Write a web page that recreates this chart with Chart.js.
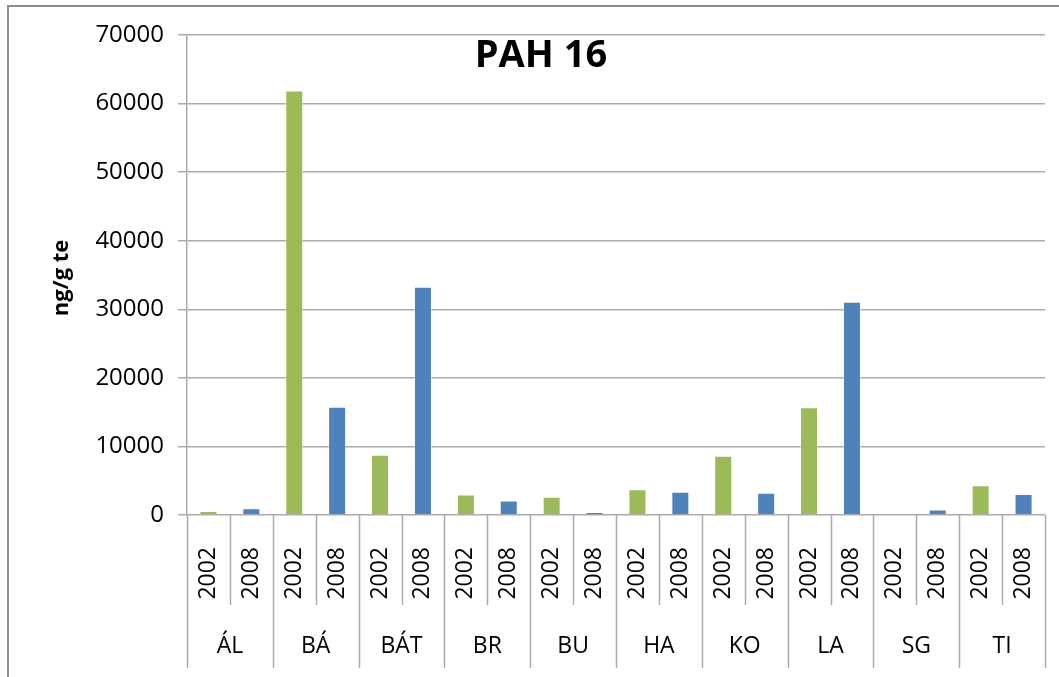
<!DOCTYPE html>
<html>
<head>
<meta charset="utf-8">
<script src="https://cdn.jsdelivr.net/npm/chart.js@4/dist/chart.umd.min.js"></script>
<style>
  html, body { margin: 0; padding: 0; background: #fff; overflow: hidden; }
</style>
</head>
<body>
<canvas id="myChart" width="1059" height="677"></canvas>
<script>
const sites = ['ÁL', 'BÁ', 'BÁT', 'BR', 'BU', 'HA', 'KO', 'LA', 'SG', 'TI']
const years = ['2002', '2008']
const values2002 = [600, 61900, 8800, 3000, 2650, 3750, 8650, 15700, null, 4350]
const values2008 = [1000, 15800, 33300, 2100, 450, 3400, 3250, 31100, 800, 3050]
const yTicks = [0, 10000, 20000, 30000, 40000, 50000, 60000, 70000]

const green = '#9BBB59'
const blue = '#4F81BD'
const gridColor = '#ababab'
const font = "'Open Sans', 'Liberation Sans', sans-serif"

// one bar per site/year slot, as in the excel chart
let labels = []
let data = []
let colors = []
sites.forEach((s, i) => {
  labels.push(years[0], years[1])
  data.push(values2002[i], values2008[i])
  colors.push(green, blue)
})

const ctx = document.getElementById('myChart');

const decor = {
  id: 'decor',
  beforeDraw(chart) {
    const c = chart.ctx
    c.save()
    c.strokeStyle = '#8c8c8c'
    c.lineWidth = 2
    c.strokeRect(8, 6, 1200, 800)
    c.restore()
  },
  afterDraw(chart) {
    const c = chart.ctx
    const x = chart.scales.x
    const x2 = chart.scales.x2
    const area = chart.chartArea
    const half = (x.getPixelForValue(1) - x.getPixelForValue(0)) / 2
    c.save()
    c.strokeStyle = gridColor
    c.lineWidth = 1.5
    for (let i = 0; i <= labels.length; i++) {
      const px = Math.round((i < labels.length ? x.getPixelForValue(i) - half : x.getPixelForValue(i - 1) + half)) + 0.5
      c.beginPath()
      c.moveTo(px, area.bottom)
      c.lineTo(px, i % 2 === 0 ? x2.bottom : x.bottom)
      c.stroke()
    }
    // title
    c.fillStyle = '#000'
    c.font = "bold 38px " + font
    c.textAlign = 'center'
    c.textBaseline = 'middle'
    c.fillText('PAH 16', 541, 56)
    // y axis title
    c.translate(62, 278)
    c.rotate(-Math.PI / 2)
    c.font = "bold 22px " + font
    c.fillText('ng/g te', 0, 0)
    c.restore()
  }
}

function noSidePad(scale) {
  scale.paddingLeft = 0
  scale.paddingRight = 0
}

new Chart(ctx, {
  type: 'bar',
  data: {
    labels: labels,
    datasets: [{
      label: 'PAH 16',
      data: data,
      backgroundColor: colors,
      borderColor: 'rgba(255,255,255,0.5)',
      borderWidth: 1,
      categoryPercentage: 1,
      barPercentage: 0.42
    }]
  },
  options: {
    responsive: false,
    animation: false,
    devicePixelRatio: 1,
    layout: { padding: { left: 0, right: 14, top: 35, bottom: 9 } },
    plugins: {
      legend: { display: false },
      tooltip: { enabled: false }
    },
    scales: {
      y: {
        min: 0,
        max: 70000,
        afterBuildTicks(scale) { scale.ticks = yTicks.map(v => ({ value: v })) },
        afterFit(scale) { scale.width = 187 },
        ticks: {
          padding: 14,
          color: '#000',
          font: { family: font, size: 24 },
          callback: v => String(v)
        },
        grid: { color: gridColor, lineWidth: 1.5, tickLength: 9 },
        border: { color: gridColor, width: 1.5 }
      },
      x: {
        afterFit(scale) { scale.height = 90; noSidePad(scale) },
        grid: { display: false },
        border: { display: false },
        ticks: {
          autoSkip: false,
          maxRotation: 90,
          minRotation: 90,
          padding: 24,
          color: '#000',
          font: { family: font, size: 23 }
        }
      },
      x2: {
        type: 'category',
        position: 'bottom',
        labels: sites,
        offset: true,
        afterFit(scale) { scale.height = 63; noSidePad(scale) },
        grid: { display: false },
        border: { display: false },
        ticks: {
          autoSkip: false,
          maxRotation: 0,
          padding: 20,
          color: '#000',
          font: { family: font, size: 23 }
        }
      }
    }
  },
  plugins: [decor]
});
</script>
</body>
</html>
